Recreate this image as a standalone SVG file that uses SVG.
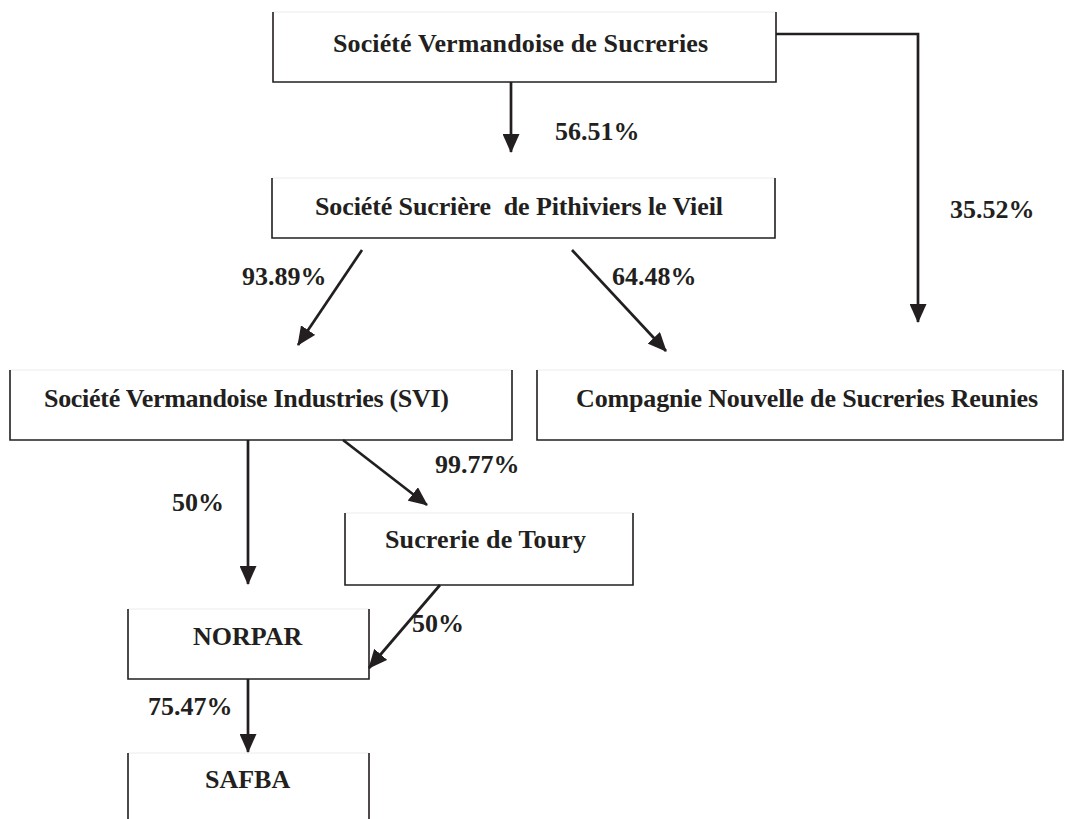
<svg xmlns="http://www.w3.org/2000/svg" width="1076" height="819" viewBox="0 0 1076 819">
<style>
.bx{fill:#ffffff;stroke:none}
.ed{fill:none;stroke:#231f20;stroke-width:1.6}
.tp{fill:none;stroke:#ececec;stroke-width:1}
.t{font-family:"Liberation Serif","Times New Roman",serif;font-weight:bold;font-size:26px;fill:#231f20}
.c{fill:none;stroke:#231f20;stroke-width:2.7}
</style>
<defs>
<marker id="ah" markerWidth="19" markerHeight="17" refX="18" refY="8.5" orient="auto" markerUnits="userSpaceOnUse">
<path d="M0,0 L19,8.5 L0,17 z" fill="#231f20"/>
</marker>
</defs>
<rect width="1076" height="819" fill="#ffffff"/>
<g id="n1">
<rect class="bx" x="273" y="12" width="503" height="70"/>
<line class="tp" x1="273" y1="12" x2="776" y2="12"/>
<path class="ed" d="M273,12 V82 H776 V12"/>
<text class="t" x="333" y="52" textLength="375">Société Vermandoise de Sucreries</text>
</g>
<g id="n2">
<rect class="bx" x="272" y="178" width="503" height="60"/>
<line class="tp" x1="272" y1="178" x2="775" y2="178"/>
<path class="ed" d="M272,178 V238 H775 V178"/>
<text class="t" x="315" y="215" xml:space="preserve" textLength="408">Société Sucrière  de Pithiviers le Vieil</text>
</g>
<g id="n3">
<rect class="bx" x="10" y="370" width="502" height="70"/>
<line class="tp" x1="10" y1="370" x2="512" y2="370"/>
<path class="ed" d="M10,370 V440 H512 V370"/>
<text class="t" x="44" y="407" textLength="405">Société Vermandoise Industries (SVI)</text>
</g>
<g id="n4">
<rect class="bx" x="537" y="370" width="526" height="70"/>
<line class="tp" x1="537" y1="370" x2="1063" y2="370"/>
<path class="ed" d="M537,370 V440 H1063 V370"/>
<text class="t" x="576" y="407" textLength="462">Compagnie Nouvelle de Sucreries Reunies</text>
</g>
<g id="n5">
<rect class="bx" x="345" y="513" width="288" height="72"/>
<line class="tp" x1="345" y1="513" x2="633" y2="513"/>
<path class="ed" d="M345,513 V585 H633 V513"/>
<text class="t" x="385" y="548" textLength="201">Sucrerie de Toury</text>
</g>
<g id="n6">
<rect class="bx" x="128" y="609" width="241" height="70"/>
<line class="tp" x1="128" y1="609" x2="369" y2="609"/>
<path class="ed" d="M128,609 V679 H369 V609"/>
<text class="t" x="193" y="645">NORPAR</text>
</g>
<g id="n7">
<rect class="bx" x="128" y="753" width="241" height="70"/>
<line class="tp" x1="128" y1="753" x2="369" y2="753"/>
<path class="ed" d="M128,753 V819 M369,819 V753"/>
<text class="t" x="205" y="788">SAFBA</text>
</g>
<g id="connectors">
<line class="c" x1="511" y1="82" x2="511" y2="152" marker-end="url(#ah)"/>
<path class="c" d="M776,34 H918 V322" marker-end="url(#ah)"/>
<line class="c" x1="362" y1="250" x2="298" y2="345" marker-end="url(#ah)"/>
<line class="c" x1="572" y1="250" x2="666" y2="351" marker-end="url(#ah)"/>
<line class="c" x1="248" y1="440" x2="248" y2="584" marker-end="url(#ah)"/>
<line class="c" x1="343" y1="440" x2="427" y2="505" marker-end="url(#ah)"/>
<line class="c" x1="440" y1="585" x2="369" y2="668" marker-end="url(#ah)"/>
<line class="c" x1="248" y1="679" x2="248" y2="752" marker-end="url(#ah)"/>
</g>
<g id="labels">
<text class="t" x="555" y="140">56.51%</text>
<text class="t" x="950" y="218">35.52%</text>
<text class="t" x="242" y="285">93.89%</text>
<text class="t" x="612" y="285">64.48%</text>
<text class="t" x="172" y="511">50%</text>
<text class="t" x="435" y="473">99.77%</text>
<text class="t" x="412" y="632">50%</text>
<text class="t" x="148" y="715">75.47%</text>
</g>
</svg>
